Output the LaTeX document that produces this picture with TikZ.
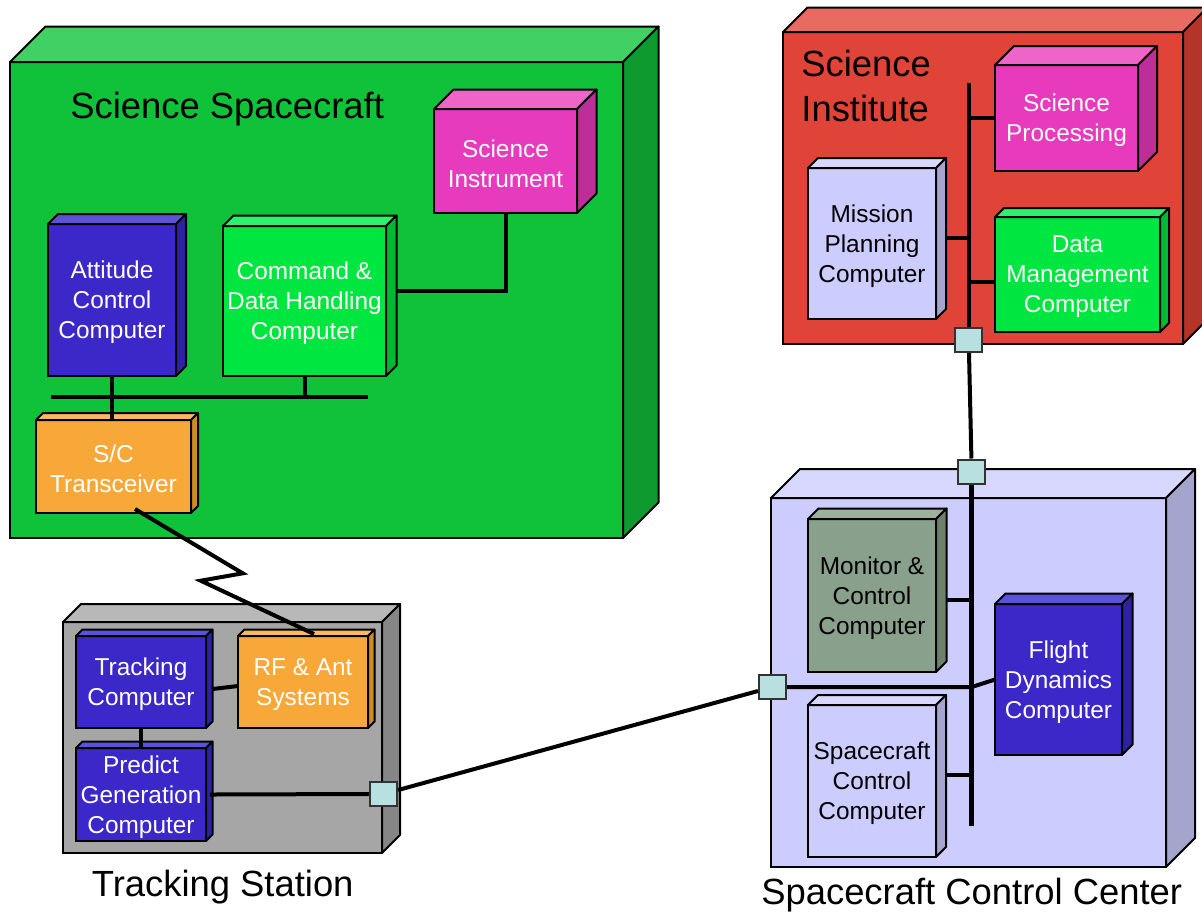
\documentclass[tikz,border=0pt]{standalone}
\usepackage{fontspec}
\setmainfont{Liberation Sans}
\usetikzlibrary{calc, fit}

% face colours: F front, T top, S side
\definecolor{craftF}{RGB}{16,194,58}
\definecolor{craftT}{RGB}{64,208,100}
\definecolor{craftS}{RGB}{14,154,46}
\definecolor{brightF}{RGB}{0,230,64}
\definecolor{brightT}{RGB}{48,238,110}
\definecolor{brightS}{RGB}{0,184,52}
\definecolor{navyF}{RGB}{60,40,200}
\definecolor{navyT}{RGB}{92,82,216}
\definecolor{navyS}{RGB}{46,34,160}
\definecolor{amberF}{RGB}{248,168,56}
\definecolor{amberT}{RGB}{250,186,92}
\definecolor{amberS}{RGB}{210,138,40}
\definecolor{pinkF}{RGB}{232,58,188}
\definecolor{pinkT}{RGB}{238,100,200}
\definecolor{pinkS}{RGB}{188,46,152}
\definecolor{brickF}{RGB}{224,68,56}
\definecolor{brickT}{RGB}{232,106,96}
\definecolor{brickS}{RGB}{180,52,42}
\definecolor{lilacF}{RGB}{204,204,255}
\definecolor{lilacT}{RGB}{216,216,255}
\definecolor{lilacS}{RGB}{164,164,204}
\definecolor{stoneF}{RGB}{166,166,166}
\definecolor{stoneT}{RGB}{184,184,184}
\definecolor{stoneS}{RGB}{134,134,134}
\definecolor{sageF}{RGB}{136,160,140}
\definecolor{sageT}{RGB}{156,176,156}
\definecolor{sageS}{RGB}{108,128,108}
\definecolor{portC}{RGB}{184,224,224}

% top and side faces of a box node: #1 node, #2 depth, #3 colour family
\newcommand{\cubefaces}[3]{%
    \draw[face, fill=#3T] (#1.north west) -- ++(#2,-#2) -- ($(#1.north east)+(#2,-#2)$) -- (#1.north east) -- cycle;
    \draw[face, fill=#3S] (#1.north east) -- ++(#2,-#2) -- ($(#1.south east)+(#2,-#2)$) -- (#1.south east) -- cycle;
}
% a computer box: #1 name, #2 #3 corners, #4 depth, #5 colour family, #6 text colour, #7 text
\newcommand{\unitbox}[7]{%
    \node[unit, fill=#5F, fit={#2 #3}] (#1) {};
    \cubefaces{#1}{#4}{#5}
    \node[utext, text=#6] (#1-t) at ([yshift=-1.3pt]#1.center) {#7};
}

\begin{document}
\begin{tikzpicture}[x=0.5pt, y=-0.5pt,
    unit/.style={draw, line width=1pt, inner sep=0pt, outer sep=0pt},
    utext/.style={inner sep=0pt, align=center, font=\fontsize{12.2}{15}\selectfont},
    face/.style={draw, line width=1pt, line join=round},
    title/.style={inner sep=0pt, font=\fontsize{18.2}{22.5}\selectfont},
    link/.style={line width=2pt},
    bus/.style={line width=2.4pt},
    port/.style={draw=black!80, line width=1pt, fill=portC, minimum width=13.5pt, minimum height=12pt, inner sep=0pt}]

    \useasboundingbox (0,0) rectangle (1202,911);

    % Science Spacecraft
    \node[unit, fill=craftF, fit={(10,62) (623,538)}] (craft) {};
    \cubefaces{craft}{35.5}{craft}
    \node[title, anchor=base west] (craftlbl) at (70,118) {Science Spacecraft};

    \unitbox{att}{(48,224)}{(176,376)}{10}{navy}{white}{Attitude\\Control\\Computer}
    \unitbox{cdh}{(223,226)}{(386,376)}{10.5}{bright}{white}{Command \&\\Data Handling\\Computer}
    \unitbox{trx}{(36,420)}{(191,513)}{7}{amber}{white}{S/C\\Transceiver}
    \unitbox{sinst}{(434,109)}{(577,213)}{19.5}{pink}{white}{Science\\Instrument}

    % spacecraft bus
    \coordinate (scbusW) at (51,397);
    \coordinate (scbusE) at (368,397);
    \draw[link] (scbusW) -- (scbusE);
    \draw[link] (att.south) -- (att.south |- trx.north);
    \draw[link] (cdh.south) -- (cdh.south |- scbusW);
    \coordinate (cdhR) at ($(cdh.east)+(10.5,-10)$);
    \draw[link] (cdhR) -| (sinst.south);

    % Science Institute
    \node[unit, fill=brickF, fit={(783,32) (1183,344)}] (inst) {};
    \cubefaces{inst}{24.5}{brick}
    \node[title, anchor=north west, align=left] (instlbl) at (801,49.5) {Science\\Institute};

    \unitbox{sproc}{(995,65)}{(1138,171)}{19}{pink}{white}{Science\\Processing}
    \unitbox{mpc}{(808,168)}{(936,319)}{10}{lilac}{black}{Mission\\Planning\\Computer}
    \unitbox{dmc}{(995,217)}{(1160,332)}{9}{bright}{white}{Data\\Management\\Computer}

    % institute bus
    \node[port] (siport) at (968.7,340) {};
    \coordinate (sibusN) at (968.7,83);
    \draw[link] (sibusN) -- (siport.north);
    \draw[link] (sproc.west) -- (sproc.west -| sibusN);
    \coordinate (mpcR) at ($(mpc.east)+(10,-5.5)$);
    \draw[link] (mpcR) -- (mpcR -| sibusN);
    \coordinate (dmcL) at ($(dmc.west)+(0,7)$);
    \draw[link] (dmcL) -- (dmcL -| sibusN);

    % Tracking Station
    \node[unit, fill=stoneF, fit={(63,622) (382,853)}] (track) {};
    \cubefaces{track}{18}{stone}
    \node[title, anchor=base] (tracklbl) at (222.7,896) {Tracking Station};

    \unitbox{tcomp}{(76,636)}{(206,728)}{6.5}{navy}{white}{Tracking\\Computer}
    \unitbox{rfant}{(238,636)}{(368,728)}{6.5}{amber}{white}{RF \& Ant\\Systems}
    \unitbox{pgen}{(76,748)}{(206,841)}{6.5}{navy}{white}{Predict\\Generation\\Computer}

    \node[port] (tsport) at (383.5,794) {};
    \draw[link] ($(tcomp.east)+(6.5,7)$) -- ($(rfant.west)+(0,4)$);
    \draw[link] (tcomp.south) -- (tcomp.south |- pgen.north);
    \draw[link] ($(pgen.east)+(4,0)$) -- (tsport.west);

    % Spacecraft Control Center
    \node[unit, fill=lilacF, fit={(771,498) (1166,867)}] (scc) {};
    \cubefaces{scc}{29}{lilac}
    \node[title, anchor=base] (scclbl) at (971.7,904) {Spacecraft Control Center};

    \unitbox{mcc}{(808,519)}{(936,672)}{10.5}{sage}{black}{Monitor \&\\Control\\Computer}
    \unitbox{sccc}{(808,705)}{(936,857)}{10}{lilac}{black}{Spacecraft\\Control\\Computer}
    \unitbox{fdc}{(995,604)}{(1122,755)}{10.5}{navy}{white}{Flight\\Dynamics\\Computer}

    % control center bus
    \node[port] (sccT) at (971.7,471.5) {};
    \node[port] (sccL) at (772.5,687) {};
    \coordinate (sccbusS) at (971.7,826);
    \draw[bus] (sccT.south) -- (sccbusS);
    \coordinate (mccR) at ($(mcc.east)+(10.5,4)$);
    \draw[link] (mccR) -- (mccR -| sccbusS);
    \coordinate (scccR) at ($(sccc.east)+(10,-6)$);
    \draw[link] (scccR) -- (scccR -| sccbusS);
    \draw[link] (sccL.east) -- (sccL.east -| sccbusS) -- (fdc.west);

    % ground and space links
    \draw[link] (siport) -- (sccT);
    \draw[link] (tsport) -- (sccL);
    \coordinate (zz1) at (242.7,573.3);
    \coordinate (zz2) at (200.7,580.7);
    \draw[link] ($(trx.south)+(21.5,-4)$) -- (zz1) -- (zz2) -- ($(rfant.north)+(11,-2)$);

\end{tikzpicture}
\end{document}
